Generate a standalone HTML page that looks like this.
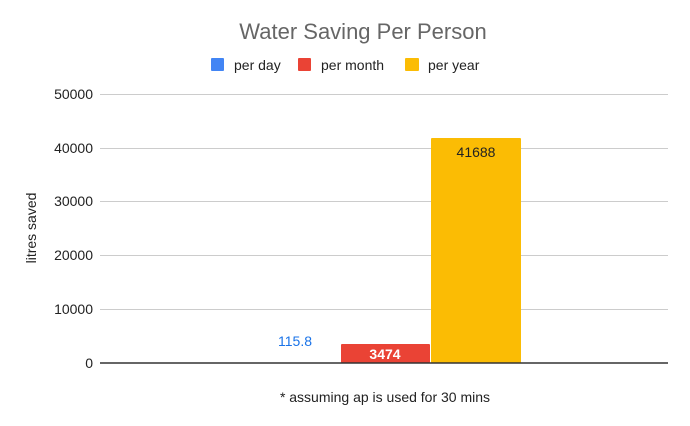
<!DOCTYPE html>
<html><head><style>
body{margin:0;background:#fff;}
svg{display:block;font-family:"Liberation Sans",Arial,sans-serif;}
</style></head><body>
<svg width="690" height="426" viewBox="0 0 690 426">
<rect width="690" height="426" fill="#fff"/>
<text x="363" y="39" font-size="22" fill="#666" text-anchor="middle">Water Saving Per Person</text>
<rect x="211" y="58" width="13" height="13" rx="1" fill="#4285f4"/>
<text x="234" y="70" font-size="14" fill="#222">per day</text>
<rect x="298" y="58" width="13" height="13" rx="1" fill="#ea4335"/>
<text x="321" y="70" font-size="14" fill="#222">per month</text>
<rect x="405" y="58" width="14" height="13" rx="1" fill="#fbbc04"/>
<text x="428" y="70" font-size="14" fill="#222">per year</text>
<g stroke="#ccc" stroke-width="1">
<line x1="100" y1="94.5" x2="668" y2="94.5"/>
<line x1="100" y1="148.5" x2="668" y2="148.5"/>
<line x1="100" y1="201.5" x2="668" y2="201.5"/>
<line x1="100" y1="255.5" x2="668" y2="255.5"/>
<line x1="100" y1="309.5" x2="668" y2="309.5"/>
</g>
<g font-size="14" fill="#222" text-anchor="end">
<text x="93" y="99">50000</text>
<text x="93" y="153">40000</text>
<text x="93" y="206">30000</text>
<text x="93" y="260">20000</text>
<text x="93" y="314">10000</text>
<text x="93" y="368">0</text>
</g>
<text transform="translate(36,228) rotate(-90)" font-size="14" fill="#222" text-anchor="middle">litres saved</text>
<rect x="341" y="344" width="89" height="19" rx="1" fill="#ea4335"/>
<rect x="431" y="138" width="90" height="225" rx="1" fill="#fbbc04"/>
<text x="295" y="346" font-size="14" fill="#1a73e8" text-anchor="middle">115.8</text>
<text x="385" y="359" font-size="14" font-weight="bold" fill="#fff" text-anchor="middle">3474</text>
<text x="476" y="157" font-size="14" fill="#222" text-anchor="middle">41688</text>
<line x1="100" y1="363" x2="668" y2="363" stroke="#333" stroke-width="1.5"/>
<text x="385" y="402" font-size="14" fill="#222" text-anchor="middle">* assuming ap is used for 30 mins</text>
</svg>
</body></html>
